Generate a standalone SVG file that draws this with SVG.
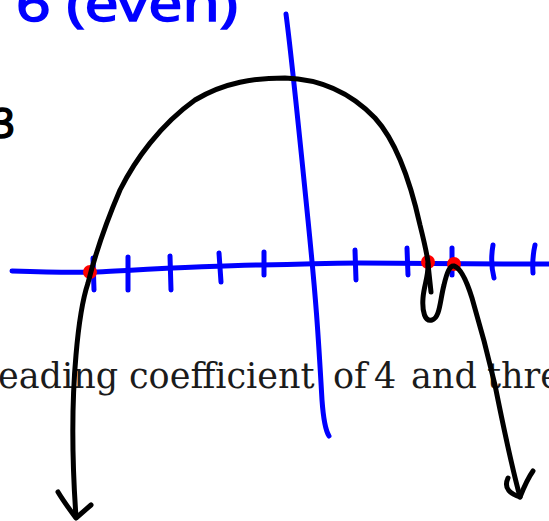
<svg xmlns="http://www.w3.org/2000/svg" width="549" height="521" viewBox="0 0 549 521">
<style>
.blue{fill:none;stroke:#0000ff;stroke-width:5;stroke-linecap:round;stroke-linejoin:round}
.ink{fill:none;stroke:#000;stroke-width:5;stroke-linecap:round;stroke-linejoin:round}
.dot{fill:#ff0000}
.hand{font-family:"Noto Sans","DejaVu Sans",sans-serif}
.print{font-family:"DejaVu Serif","Liberation Serif",serif;font-size:35px;fill:#1b1b1b}
</style>
<rect width="549" height="521" fill="#fff"/>
<g id="labels">
<text class="hand" x="16" y="21" font-size="50" fill="#0000ff" stroke="#0000ff" stroke-width="1.5" textLength="222" lengthAdjust="spacingAndGlyphs">6 (even)</text>
<text class="hand" x="-9" y="138" font-size="42" fill="#000" stroke="#000" stroke-width="1.5">3</text>
<text class="print" y="388"><tspan x="-2">eading</tspan><tspan x="129">coefficient</tspan><tspan x="333">of</tspan><tspan x="374">4</tspan><tspan x="411">and</tspan><tspan x="487">thre</tspan></text>
</g>
<g id="axes">
<path class="blue" d="M12,271 C40,272 70,273 95,272 S200,266 260,265 S320,263 360,263 S480,264 549,264"/>
<path class="blue" d="M286,14 C292,60 300,140 308,220 S318,330 322,400 Q324,428 329,436"/>
</g>
<g id="ticks">
<path class="blue" d="M93,258 L94,290 M128,257 L128,290 M170,256 L171,290 M219,253 L221,282 M264,252 L264,275 M355,250 L356,280 M407,248 L408,275 M452,248 L452,275 M493,245 Q490,262 494,278 M535,245 Q532,258 533,273"/>
</g>
<g id="points">
<circle class="dot" cx="90" cy="272" r="7"/>
<circle class="dot" cx="428" cy="262" r="7"/>
<circle class="dot" cx="454" cy="264" r="7"/>
</g>
<g id="curve">
<path class="ink" d="M76,517 C72,460 72,400 76,355 C79,320 83,298 88,283 C95,255 105,225 120,190 C135,160 160,125 195,100 C225,82 255,78 285,78 C320,79 350,92 375,118 C395,140 410,180 420,225 C425,245 427,255 428,262 C429,275 424,285 423,298 C422,312 425,322 432,320 C440,318 440,300 444,285 C447,272 450,265 454,266 C461,268 467,282 472,298 C480,325 488,355 495,385 C502,420 510,460 520,497"/>
<path class="ink" d="M428,264 L431,292"/>
<path class="ink" d="M58,492 C64,502 70,510 76,518 L91,505"/>
<path class="ink" d="M508,478 C503,489 511,494 520,497 M520,497 C524,487 528,478 533,471"/>
</g>
</svg>
